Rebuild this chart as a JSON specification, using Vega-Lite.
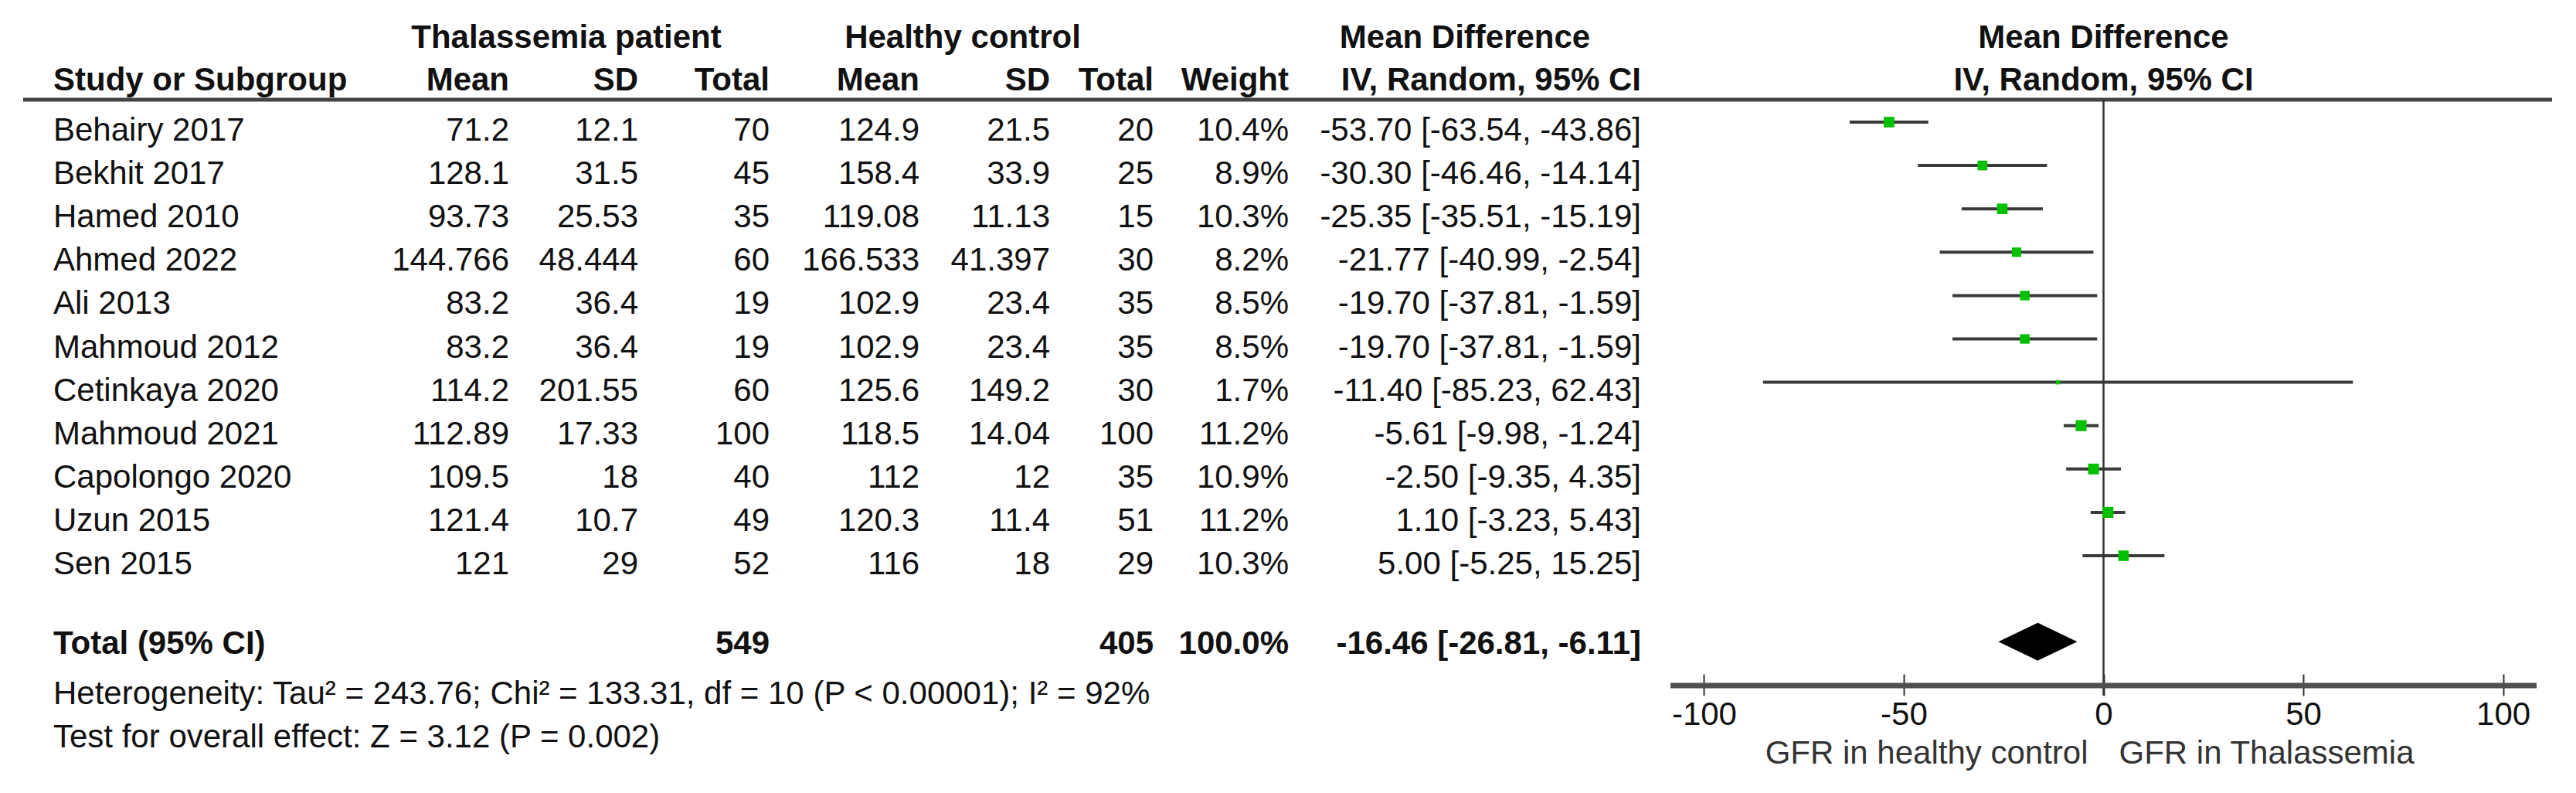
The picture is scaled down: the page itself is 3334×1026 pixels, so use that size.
{
"$schema": "https://vega.github.io/schema/vega-lite/v6.json",
"padding": {"left": 27, "top": 0, "right": 0, "bottom": 0},
"spacing": 0,
"bounds": "flush",
"background": "white",
"config": {"view": {"stroke": null}, "text": {"font": "Liberation Sans", "fontSize": 42, "color": "#111"}},
"datasets": {
"studies": [
{"study":"Behairy 2017","r":1,"tm":71.2,"tsd":12.1,"tn":70,"hm":124.9,"hsd":21.5,"hn":20,"w":10.4,"wt":"10.4%","md":-53.7,"lo":-63.54,"hi":-43.86,"ci":"-53.70 [-63.54, -43.86]"},
{"study":"Bekhit 2017","r":2,"tm":128.1,"tsd":31.5,"tn":45,"hm":158.4,"hsd":33.9,"hn":25,"w":8.9,"wt":"8.9%","md":-30.3,"lo":-46.46,"hi":-14.14,"ci":"-30.30 [-46.46, -14.14]"},
{"study":"Hamed 2010","r":3,"tm":93.73,"tsd":25.53,"tn":35,"hm":119.08,"hsd":11.13,"hn":15,"w":10.3,"wt":"10.3%","md":-25.35,"lo":-35.51,"hi":-15.19,"ci":"-25.35 [-35.51, -15.19]"},
{"study":"Ahmed 2022","r":4,"tm":144.766,"tsd":48.444,"tn":60,"hm":166.533,"hsd":41.397,"hn":30,"w":8.2,"wt":"8.2%","md":-21.77,"lo":-40.99,"hi":-2.54,"ci":"-21.77 [-40.99, -2.54]"},
{"study":"Ali 2013","r":5,"tm":83.2,"tsd":36.4,"tn":19,"hm":102.9,"hsd":23.4,"hn":35,"w":8.5,"wt":"8.5%","md":-19.7,"lo":-37.81,"hi":-1.59,"ci":"-19.70 [-37.81, -1.59]"},
{"study":"Mahmoud 2012","r":6,"tm":83.2,"tsd":36.4,"tn":19,"hm":102.9,"hsd":23.4,"hn":35,"w":8.5,"wt":"8.5%","md":-19.7,"lo":-37.81,"hi":-1.59,"ci":"-19.70 [-37.81, -1.59]"},
{"study":"Cetinkaya 2020","r":7,"tm":114.2,"tsd":201.55,"tn":60,"hm":125.6,"hsd":149.2,"hn":30,"w":1.7,"wt":"1.7%","md":-11.4,"lo":-85.23,"hi":62.43,"ci":"-11.40 [-85.23, 62.43]"},
{"study":"Mahmoud 2021","r":8,"tm":112.89,"tsd":17.33,"tn":100,"hm":118.5,"hsd":14.04,"hn":100,"w":11.2,"wt":"11.2%","md":-5.61,"lo":-9.98,"hi":-1.24,"ci":"-5.61 [-9.98, -1.24]"},
{"study":"Capolongo 2020","r":9,"tm":109.5,"tsd":18,"tn":40,"hm":112,"hsd":12,"hn":35,"w":10.9,"wt":"10.9%","md":-2.5,"lo":-9.35,"hi":4.35,"ci":"-2.50 [-9.35, 4.35]"},
{"study":"Uzun 2015","r":10,"tm":121.4,"tsd":10.7,"tn":49,"hm":120.3,"hsd":11.4,"hn":51,"w":11.2,"wt":"11.2%","md":1.1,"lo":-3.23,"hi":5.43,"ci":"1.10 [-3.23, 5.43]"},
{"study":"Sen 2015","r":11,"tm":121,"tsd":29,"tn":52,"hm":116,"hsd":18,"hn":29,"w":10.3,"wt":"10.3%","md":5.0,"lo":-5.25,"hi":15.25,"ci":"5.00 [-5.25, 15.25]"}
],
"total": [{"label":"Total (95% CI)","r":13,"tn":549,"hn":405,"wt":"100.0%","md":-16.46,"lo":-26.81,"hi":-6.11,"ci":"-16.46 [-26.81, -6.11]"}],
"notes": [
{"r":14,"label":"Heterogeneity: Tau² = 243.76; Chi² = 133.31, df = 10 (P < 0.00001); I² = 92%"},
{"r":15,"label":"Test for overall effect: Z = 3.12 (P = 0.002)"}
]
},
"hconcat": [
{"width":393,"height":1026,"layer":[
 {"data":{"values":[{}]},"mark":{"type":"rule","color":"#444","strokeWidth":5},"encoding":{"y":{"datum":0.287,"type":"quantitative","scale":{"domain":[-2.0125,16.276],"reverse":true,"nice":false,"zero":false},"axis":null},"x":{"value":0},"x2":{"value":"width"}}},
 {"data":{"name":"studies"},"mark":{"type":"text","align":"left","baseline":"middle","dx":39},"encoding":{"x":{"value":0},"y":{"field":"r","type":"quantitative","scale":{"domain":[-2.0125,16.276],"reverse":true,"nice":false,"zero":false},"axis":null},"text":{"field":"study","type":"nominal"}}},
 {"data":{"name":"total"},"mark":{"type":"text","align":"left","baseline":"middle","dx":39,"dy":-9,"fontWeight":"bold"},"encoding":{"x":{"value":0},"y":{"field":"r","type":"quantitative","scale":{"domain":[-2.0125,16.276],"reverse":true,"nice":false,"zero":false},"axis":null},"text":{"field":"label","type":"nominal"}}},
 {"data":{"name":"notes"},"mark":{"type":"text","align":"left","baseline":"middle","dx":39},"encoding":{"x":{"value":0},"y":{"field":"r","type":"quantitative","scale":{"domain":[-2.0125,16.276],"reverse":true,"nice":false,"zero":false},"axis":null},"text":{"field":"label","type":"nominal"}}},
 {"data":{"values":[{}]},"mark":{"type":"text","align":"left","baseline":"middle","dx":39,"fontWeight":"bold","text":"Study or Subgroup"},"encoding":{"x":{"value":0},"y":{"datum":-0.152,"type":"quantitative","scale":{"domain":[-2.0125,16.276],"reverse":true,"nice":false,"zero":false},"axis":null}}}
]},
{"width":236,"height":1026,"layer":[
 {"data":{"values":[{}]},"mark":{"type":"rule","color":"#444","strokeWidth":5},"encoding":{"y":{"datum":0.287,"type":"quantitative","scale":{"domain":[-2.0125,16.276],"reverse":true,"nice":false,"zero":false},"axis":null},"x":{"value":0},"x2":{"value":"width"}}},
 {"data":{"name":"studies"},"mark":{"type":"text","align":"right","baseline":"middle"},"encoding":{"x":{"value":"width"},"y":{"field":"r","type":"quantitative","scale":{"domain":[-2.0125,16.276],"reverse":true,"nice":false,"zero":false},"axis":null},"text":{"field":"tm","type":"nominal"}}},
 {"data":{"values":[{}]},"mark":{"type":"text","align":"right","baseline":"middle","fontWeight":"bold","text":"Mean"},"encoding":{"x":{"value":"width"},"y":{"datum":-0.152,"type":"quantitative","scale":{"domain":[-2.0125,16.276],"reverse":true,"nice":false,"zero":false},"axis":null}}}
]},
{"width":167,"height":1026,"layer":[
 {"data":{"values":[{}]},"mark":{"type":"rule","color":"#444","strokeWidth":5},"encoding":{"y":{"datum":0.287,"type":"quantitative","scale":{"domain":[-2.0125,16.276],"reverse":true,"nice":false,"zero":false},"axis":null},"x":{"value":0},"x2":{"value":"width"}}},
 {"data":{"name":"studies"},"mark":{"type":"text","align":"right","baseline":"middle"},"encoding":{"x":{"value":"width"},"y":{"field":"r","type":"quantitative","scale":{"domain":[-2.0125,16.276],"reverse":true,"nice":false,"zero":false},"axis":null},"text":{"field":"tsd","type":"nominal"}}},
 {"data":{"values":[{}]},"mark":{"type":"text","align":"right","baseline":"middle","fontWeight":"bold","text":"SD"},"encoding":{"x":{"value":"width"},"y":{"datum":-0.152,"type":"quantitative","scale":{"domain":[-2.0125,16.276],"reverse":true,"nice":false,"zero":false},"axis":null}}},
 {"data":{"values":[{}]},"mark":{"type":"text","align":"center","baseline":"middle","fontWeight":"bold","dx":-93,"text":"Thalassemia patient"},"encoding":{"x":{"value":"width"},"y":{"datum":-1.132,"type":"quantitative","scale":{"domain":[-2.0125,16.276],"reverse":true,"nice":false,"zero":false},"axis":null}}}
]},
{"width":170,"height":1026,"layer":[
 {"data":{"values":[{}]},"mark":{"type":"rule","color":"#444","strokeWidth":5},"encoding":{"y":{"datum":0.287,"type":"quantitative","scale":{"domain":[-2.0125,16.276],"reverse":true,"nice":false,"zero":false},"axis":null},"x":{"value":0},"x2":{"value":"width"}}},
 {"data":{"name":"studies"},"mark":{"type":"text","align":"right","baseline":"middle"},"encoding":{"x":{"value":"width"},"y":{"field":"r","type":"quantitative","scale":{"domain":[-2.0125,16.276],"reverse":true,"nice":false,"zero":false},"axis":null},"text":{"field":"tn","type":"nominal"}}},
 {"data":{"name":"total"},"mark":{"type":"text","align":"right","baseline":"middle","dy":-9,"fontWeight":"bold"},"encoding":{"x":{"value":"width"},"y":{"field":"r","type":"quantitative","scale":{"domain":[-2.0125,16.276],"reverse":true,"nice":false,"zero":false},"axis":null},"text":{"field":"tn","type":"nominal"}}},
 {"data":{"values":[{}]},"mark":{"type":"text","align":"right","baseline":"middle","fontWeight":"bold","text":"Total"},"encoding":{"x":{"value":"width"},"y":{"datum":-0.152,"type":"quantitative","scale":{"domain":[-2.0125,16.276],"reverse":true,"nice":false,"zero":false},"axis":null}}}
]},
{"width":194,"height":1026,"layer":[
 {"data":{"values":[{}]},"mark":{"type":"rule","color":"#444","strokeWidth":5},"encoding":{"y":{"datum":0.287,"type":"quantitative","scale":{"domain":[-2.0125,16.276],"reverse":true,"nice":false,"zero":false},"axis":null},"x":{"value":0},"x2":{"value":"width"}}},
 {"data":{"name":"studies"},"mark":{"type":"text","align":"right","baseline":"middle"},"encoding":{"x":{"value":"width"},"y":{"field":"r","type":"quantitative","scale":{"domain":[-2.0125,16.276],"reverse":true,"nice":false,"zero":false},"axis":null},"text":{"field":"hm","type":"nominal"}}},
 {"data":{"values":[{}]},"mark":{"type":"text","align":"right","baseline":"middle","fontWeight":"bold","text":"Mean"},"encoding":{"x":{"value":"width"},"y":{"datum":-0.152,"type":"quantitative","scale":{"domain":[-2.0125,16.276],"reverse":true,"nice":false,"zero":false},"axis":null}}}
]},
{"width":169,"height":1026,"layer":[
 {"data":{"values":[{}]},"mark":{"type":"rule","color":"#444","strokeWidth":5},"encoding":{"y":{"datum":0.287,"type":"quantitative","scale":{"domain":[-2.0125,16.276],"reverse":true,"nice":false,"zero":false},"axis":null},"x":{"value":0},"x2":{"value":"width"}}},
 {"data":{"name":"studies"},"mark":{"type":"text","align":"right","baseline":"middle"},"encoding":{"x":{"value":"width"},"y":{"field":"r","type":"quantitative","scale":{"domain":[-2.0125,16.276],"reverse":true,"nice":false,"zero":false},"axis":null},"text":{"field":"hsd","type":"nominal"}}},
 {"data":{"values":[{}]},"mark":{"type":"text","align":"right","baseline":"middle","fontWeight":"bold","text":"SD"},"encoding":{"x":{"value":"width"},"y":{"datum":-0.152,"type":"quantitative","scale":{"domain":[-2.0125,16.276],"reverse":true,"nice":false,"zero":false},"axis":null}}},
 {"data":{"values":[{}]},"mark":{"type":"text","align":"center","baseline":"middle","fontWeight":"bold","dx":-113,"text":"Healthy control"},"encoding":{"x":{"value":"width"},"y":{"datum":-1.132,"type":"quantitative","scale":{"domain":[-2.0125,16.276],"reverse":true,"nice":false,"zero":false},"axis":null}}}
]},
{"width":134,"height":1026,"layer":[
 {"data":{"values":[{}]},"mark":{"type":"rule","color":"#444","strokeWidth":5},"encoding":{"y":{"datum":0.287,"type":"quantitative","scale":{"domain":[-2.0125,16.276],"reverse":true,"nice":false,"zero":false},"axis":null},"x":{"value":0},"x2":{"value":"width"}}},
 {"data":{"name":"studies"},"mark":{"type":"text","align":"right","baseline":"middle"},"encoding":{"x":{"value":"width"},"y":{"field":"r","type":"quantitative","scale":{"domain":[-2.0125,16.276],"reverse":true,"nice":false,"zero":false},"axis":null},"text":{"field":"hn","type":"nominal"}}},
 {"data":{"name":"total"},"mark":{"type":"text","align":"right","baseline":"middle","dy":-9,"fontWeight":"bold"},"encoding":{"x":{"value":"width"},"y":{"field":"r","type":"quantitative","scale":{"domain":[-2.0125,16.276],"reverse":true,"nice":false,"zero":false},"axis":null},"text":{"field":"hn","type":"nominal"}}},
 {"data":{"values":[{}]},"mark":{"type":"text","align":"right","baseline":"middle","fontWeight":"bold","text":"Total"},"encoding":{"x":{"value":"width"},"y":{"datum":-0.152,"type":"quantitative","scale":{"domain":[-2.0125,16.276],"reverse":true,"nice":false,"zero":false},"axis":null}}}
]},
{"width":175,"height":1026,"layer":[
 {"data":{"values":[{}]},"mark":{"type":"rule","color":"#444","strokeWidth":5},"encoding":{"y":{"datum":0.287,"type":"quantitative","scale":{"domain":[-2.0125,16.276],"reverse":true,"nice":false,"zero":false},"axis":null},"x":{"value":0},"x2":{"value":"width"}}},
 {"data":{"name":"studies"},"mark":{"type":"text","align":"right","baseline":"middle"},"encoding":{"x":{"value":"width"},"y":{"field":"r","type":"quantitative","scale":{"domain":[-2.0125,16.276],"reverse":true,"nice":false,"zero":false},"axis":null},"text":{"field":"wt","type":"nominal"}}},
 {"data":{"name":"total"},"mark":{"type":"text","align":"right","baseline":"middle","dy":-9,"fontWeight":"bold"},"encoding":{"x":{"value":"width"},"y":{"field":"r","type":"quantitative","scale":{"domain":[-2.0125,16.276],"reverse":true,"nice":false,"zero":false},"axis":null},"text":{"field":"wt","type":"nominal"}}},
 {"data":{"values":[{}]},"mark":{"type":"text","align":"right","baseline":"middle","fontWeight":"bold","text":"Weight"},"encoding":{"x":{"value":"width"},"y":{"datum":-0.152,"type":"quantitative","scale":{"domain":[-2.0125,16.276],"reverse":true,"nice":false,"zero":false},"axis":null}}}
]},
{"width":494,"height":1026,"layer":[
 {"data":{"values":[{}]},"mark":{"type":"rule","color":"#444","strokeWidth":5},"encoding":{"y":{"datum":0.287,"type":"quantitative","scale":{"domain":[-2.0125,16.276],"reverse":true,"nice":false,"zero":false},"axis":null},"x":{"value":0},"x2":{"value":"width"}}},
 {"data":{"name":"studies"},"mark":{"type":"text","align":"right","baseline":"middle","dx":-38},"encoding":{"x":{"value":"width"},"y":{"field":"r","type":"quantitative","scale":{"domain":[-2.0125,16.276],"reverse":true,"nice":false,"zero":false},"axis":null},"text":{"field":"ci","type":"nominal"}}},
 {"data":{"name":"total"},"mark":{"type":"text","align":"right","baseline":"middle","fontWeight":"bold","dx":-38,"dy":-9},"encoding":{"x":{"value":"width"},"y":{"field":"r","type":"quantitative","scale":{"domain":[-2.0125,16.276],"reverse":true,"nice":false,"zero":false},"axis":null},"text":{"field":"ci","type":"nominal"}}},
 {"data":{"values":[{}]},"mark":{"type":"text","align":"right","baseline":"middle","fontWeight":"bold","dx":-38,"text":"IV, Random, 95% CI"},"encoding":{"x":{"value":"width"},"y":{"datum":-0.152,"type":"quantitative","scale":{"domain":[-2.0125,16.276],"reverse":true,"nice":false,"zero":false},"axis":null}}},
 {"data":{"values":[{}]},"mark":{"type":"text","align":"center","baseline":"middle","fontWeight":"bold","dx":-266,"text":"Mean Difference"},"encoding":{"x":{"value":"width"},"y":{"datum":-1.132,"type":"quantitative","scale":{"domain":[-2.0125,16.276],"reverse":true,"nice":false,"zero":false},"axis":null}}}
]},
{"width":1121,"height":872,"layer":[
 {"data":{"values":[{}]},"mark":{"type":"rule","color":"#444","strokeWidth":5,"x2Offset":20},"encoding":{"y":{"datum":0.287,"type":"quantitative","scale":{"domain":[-2.0125,13.531],"reverse":true,"nice":false,"zero":false},"axis":null},"x":{"value":0},"x2":{"value":"width"}}},
 {"data":{"name":"studies"},"mark":{"type":"rule","color":"#3a3a3a","strokeWidth":4,"yOffset":-11,"y2Offset":-11},"encoding":{"x":{"field":"lo","type":"quantitative","scale":{"domain":[-108.4,108.4],"nice":false,"zero":false},"axis":{"values":[-100,-50,0,50,100],"domain":false,"grid":false,"tickSize":28,"tickWidth":2,"tickColor":"#333","labelFontSize":42,"labelFont":"Liberation Sans","labelColor":"#111","labelPadding":4,"labelFlush":false,"title":null,"labelExpr":"'' + datum.value"}},"x2":{"field":"hi"},"y":{"field":"r","type":"quantitative","scale":{"domain":[-2.0125,13.531],"reverse":true,"nice":false,"zero":false},"axis":null}}},
 {"data":{"values":[{}]},"mark":{"type":"rule","color":"#333","strokeWidth":2.5},"encoding":{"x":{"datum":0,"type":"quantitative"},"y":{"datum":0.287,"type":"quantitative","scale":{"domain":[-2.0125,13.531],"reverse":true,"nice":false,"zero":false},"axis":null},"y2":{"datum":14.03}}},
 {"data":{"values":[{}]},"mark":{"type":"rule","color":"#505050","strokeWidth":7},"encoding":{"x":{"datum":-108.4,"type":"quantitative"},"x2":{"datum":108.4},"y":{"datum":13.799,"type":"quantitative","scale":{"domain":[-2.0125,13.531],"reverse":true,"nice":false,"zero":false},"axis":null}}},
 {"data":{"name":"studies"},"mark":{"type":"square","color":"#00c000","opacity":1,"yOffset":-11},"encoding":{"x":{"field":"md","type":"quantitative"},"y":{"field":"r","type":"quantitative","scale":{"domain":[-2.0125,13.531],"reverse":true,"nice":false,"zero":false},"axis":null},"size":{"field":"w","type":"quantitative","scale":{"domain":[0,11.2],"range":[0,200]},"legend":null}}},
 {"data":{"name":"total"},"mark":{"type":"point","shape":"M-1,0L0,-0.48L1,0L0,0.48Z","filled":true,"color":"#000","opacity":1,"size":10404,"yOffset":-12},"encoding":{"x":{"field":"md","type":"quantitative"},"y":{"field":"r","type":"quantitative","scale":{"domain":[-2.0125,13.531],"reverse":true,"nice":false,"zero":false},"axis":null}}},
 {"data":{"values":[{}]},"mark":{"type":"text","align":"center","baseline":"middle","fontWeight":"bold","text":"Mean Difference"},"encoding":{"x":{"datum":0,"type":"quantitative"},"y":{"datum":-1.132,"type":"quantitative","scale":{"domain":[-2.0125,13.531],"reverse":true,"nice":false,"zero":false},"axis":null}}},
 {"data":{"values":[{}]},"mark":{"type":"text","align":"center","baseline":"middle","fontWeight":"bold","text":"IV, Random, 95% CI"},"encoding":{"x":{"datum":0,"type":"quantitative"},"y":{"datum":-0.152,"type":"quantitative","scale":{"domain":[-2.0125,13.531],"reverse":true,"nice":false,"zero":false},"axis":null}}},
 {"data":{"values":[{}]},"mark":{"type":"text","align":"right","baseline":"middle","dx":-20,"color":"#333","text":"GFR in healthy control"},"encoding":{"x":{"datum":0,"type":"quantitative"},"y":{"datum":15.375,"type":"quantitative","scale":{"domain":[-2.0125,13.531],"reverse":true,"nice":false,"zero":false},"axis":null}}},
 {"data":{"values":[{}]},"mark":{"type":"text","align":"left","baseline":"middle","dx":20,"color":"#333","text":"GFR in Thalassemia"},"encoding":{"x":{"datum":0,"type":"quantitative"},"y":{"datum":15.375,"type":"quantitative","scale":{"domain":[-2.0125,13.531],"reverse":true,"nice":false,"zero":false},"axis":null}}}
]}
]
}
